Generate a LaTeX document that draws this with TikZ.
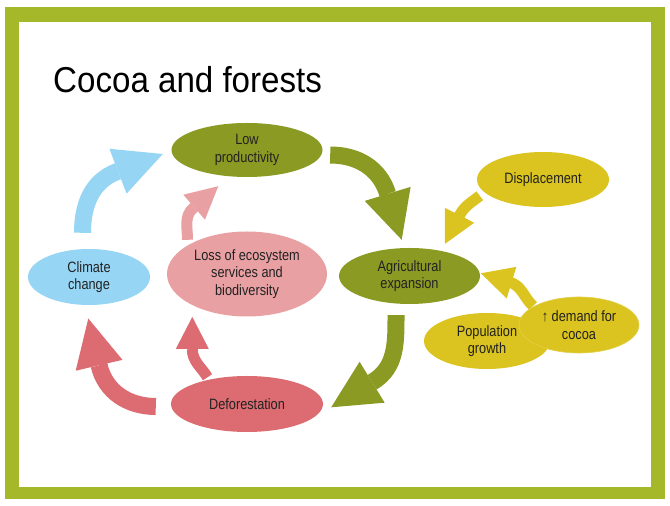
\documentclass[tikz,border=0pt]{standalone}
\usepackage{fontspec}
\setmainfont{Liberation Sans}
\newfontfamily\bodyfont[FakeStretch=0.85]{Liberation Sans}
\newfontfamily\titlefont[FakeStretch=0.92]{Liberation Sans}
\usetikzlibrary{shapes.geometric,arrows.meta}

\definecolor{framegreen}{HTML}{A5B829}
\definecolor{olive}{HTML}{8A9A23}
\definecolor{mustard}{HTML}{DBC41F}
\definecolor{skyblue}{HTML}{97D5F4}
\definecolor{rosepink}{HTML}{E8A0A3}
\definecolor{brickred}{HTML}{DC6C71}
\definecolor{inktext}{HTML}{222222}

\tikzset{
  bubble/.style={ellipse, inner sep=0pt, align=center, text=inktext,
    font=\bodyfont\fontsize{15}{17.5}\selectfont},
  bigflow/.style={line width=17pt, draw=#1,
    -{Triangle[width=48pt,length=48pt,line width=0pt,fill=#1]}},
  smallflow/.style={line width=11pt, draw=#1,
    -{Triangle[width=33pt,length=32pt,line width=0pt,fill=#1]}}
}

\begin{document}
\begin{tikzpicture}[x=1pt, y=1pt]
    \useasboundingbox (0,0) rectangle (670,506);

    % Frame
    \fill[framegreen] (5,7) rectangle (665,499);
    \fill[white] (19,19) rectangle (651,484);

    % Title
    \node[anchor=base west, inner sep=0pt, text=black,
          font=\titlefont\fontsize{36}{40}\selectfont] (title) at (53,413) {Cocoa and forests};

    % Cycle
    \node[bubble, fill=olive, minimum width=151pt, minimum height=54pt] (low) at (247,356) {Low\\productivity};
    \node[bubble, fill=skyblue, minimum width=122pt, minimum height=56pt] (clim) at (89,229) {Climate\\change};
    \node[bubble, fill=rosepink, minimum width=160pt, minimum height=85pt] (loss) at (247,232) {Loss of ecosystem\\services and\\biodiversity};
    \node[bubble, fill=olive, minimum width=141pt, minimum height=56pt] (agri) at (409.5,230) {Agricultural\\expansion};
    \node[bubble, fill=brickred, minimum width=152pt, minimum height=56pt] (defo) at (247,102) {Deforestation};

    % Drivers
    \node[bubble, fill=mustard, minimum width=132pt, minimum height=55pt] (disp) at (543,326.5) {Displacement};
    \node[bubble, fill=mustard, minimum width=126pt, minimum height=56pt] (pop) at (487,165) {Population\\growth};

    % Arrow tips
    \coordinate (tipA) at ([shift={(-8.5,-4)}]low.west);
    \coordinate (tipB) at ([shift={(-28.7,-9)}]low.south);
    \coordinate (tipC) at ([shift={(-7.8,8)}]agri.north);
    \coordinate (tipD) at ([shift={(8,-3.3)}]defo.east);
    \coordinate (tipE) at ([shift={(-0.7,-13.3)}]clim.south);
    \coordinate (tipF) at ([shift={(-54.7,-0.2)}]loss.south);
    \coordinate (tipG) at ([shift={(35.5,4)}]agri.north);
    \coordinate (tipH) at ([shift={(0.7,2.7)}]agri.east);

    % Arrows
    \draw[bigflow=skyblue] ([shift={(-6.5,16)}]clim.north) to[out=90, in=201] ([shift={(201:49)}]tipA) -- (tipA);
    \draw[smallflow=rosepink] ([shift={(-59.5,-8.5)}]loss.north) to[out=90, in=221] ([shift={(221:33)}]tipB) -- (tipB);
    \draw[bigflow=olive] ([shift={(7.5,-5)}]low.east) to[out=0, in=107] ([shift={(107:48)}]tipC) -- (tipC);
    \draw[bigflow=olive] ([shift={(-13.5,-11)}]agri.south) to[out=-90, in=31.5] ([shift={(31.5:49)}]tipD) -- (tipD);
    \draw[bigflow=brickred] ([shift={(-15,-2.5)}]defo.west) to[out=180, in=-77] ([shift={(-77:48)}]tipE) -- (tipE);
    \draw[smallflow=brickred] ([shift={(-39.5,-1.5)}]defo.north) to[out=121, in=-90] ([shift={(-90:32)}]tipF) -- (tipF);
    \draw[smallflow=mustard] ([shift={(3,-16.3)}]disp.west) to[out=218, in=63] ([shift={(63:31)}]tipG) -- (tipG);
    \draw[smallflow=mustard] (533,200) to[out=137, in=-17] ([shift={(-17:30)}]tipH) -- (tipH);

    % Demand on top
    \node[bubble, fill=mustard, draw=mustard!80!white, line width=0.6pt,
          minimum width=120pt, minimum height=56pt] (dem) at (579,181) {↑ demand for\\cocoa};

\end{tikzpicture}
\end{document}
